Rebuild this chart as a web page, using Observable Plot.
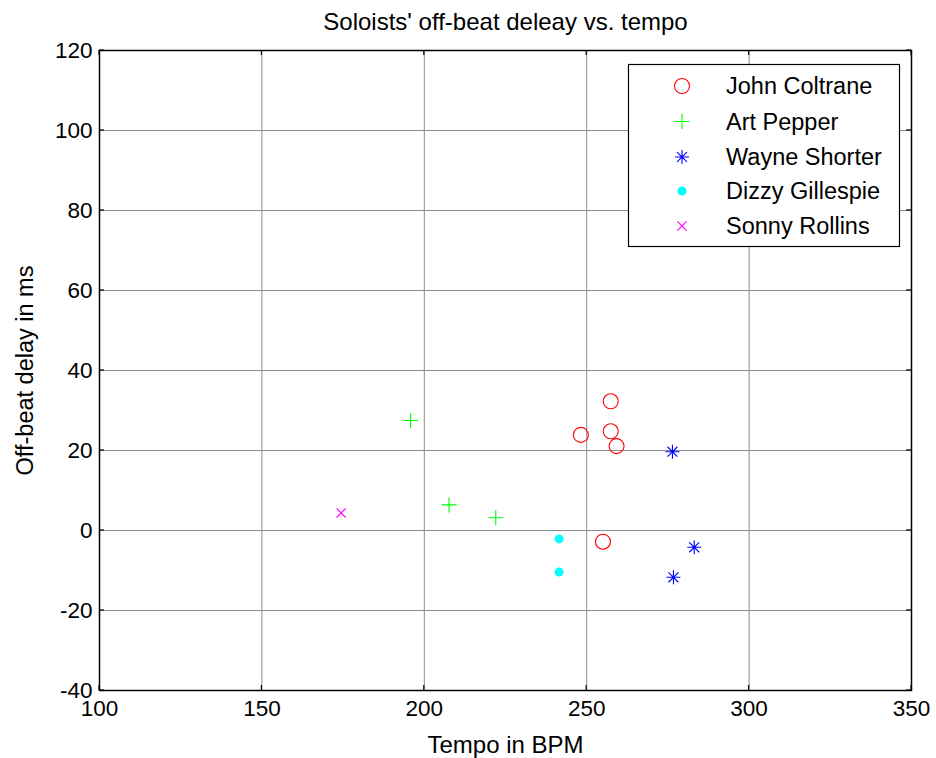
<!DOCTYPE html>
<html>
<head>
<meta charset="utf-8">
<script src="https://cdn.jsdelivr.net/npm/d3@7"></script>
<script src="https://cdn.jsdelivr.net/npm/@observablehq/plot@0.6"></script>
<style>
  html, body { margin: 0; padding: 0; background: #fff; }
  #chart { position: relative; width: 936px; height: 758px; }
</style>
</head>
<body>
<div id="chart"></div>
<script>
// ---- data ----
const players = ["John Coltrane", "Art Pepper", "Wayne Shorter", "Dizzy Gillespie", "Sonny Rollins"];
const coltraneTempo = [257.4, 248.2, 257.4, 259.2, 255.0];
const coltraneDelay = [32.3, 23.9, 24.8, 21.1, -2.8];
const pepperTempo = [195.8, 207.6, 222.0];
const pepperDelay = [27.5, 6.4, 3.2];
const shorterTempo = [276.4, 283.1, 276.7];
const shorterDelay = [19.7, -4.2, -11.7];
const gillespieTempo = [241.5, 241.5];
const gillespieDelay = [-2.1, -10.4];
const rollinsTempo = [174.4];
const rollinsDelay = [4.4];
const xTicks = [100, 150, 200, 250, 300, 350];
const yTicks = [-40, -20, 0, 20, 40, 60, 80, 100, 120];
const titleText = "Soloists' off-beat deleay vs. tempo";
const xLabel = "Tempo in BPM";
const yLabel = "Off-beat delay in ms";

const rows = (xs, ys) => xs.map((x, i) => ({x, y: ys[i]}));

// custom symbols: r (from size) = half-length of arms
const rad = size => Math.sqrt(size / Math.PI);
const plusSym = {draw(c, s) { const r = rad(s); c.moveTo(-r, 0); c.lineTo(r, 0); c.moveTo(0, -r); c.lineTo(0, r); }};
const timesSym = {draw(c, s) { const r = rad(s) * 0.7071; c.moveTo(-r, -r); c.lineTo(r, r); c.moveTo(-r, r); c.lineTo(r, -r); }};
const asteriskSym = {draw(c, s) { const r = rad(s); const d = r * 0.7071;
  c.moveTo(-r, 0); c.lineTo(r, 0); c.moveTo(0, -r); c.lineTo(0, r);
  c.moveTo(-d, -d); c.lineTo(d, d); c.moveTo(-d, d); c.lineTo(d, -d); }};
const circleSym = {draw(c, s) { const r = rad(s); c.moveTo(r, 0); c.arc(0, 0, r, 0, 2 * Math.PI); }};

const series = [
  {name: players[0], data: rows(coltraneTempo, coltraneDelay), symbol: circleSym, r: 7.5, stroke: "#ff0000", fill: "none"},
  {name: players[1], data: rows(pepperTempo, pepperDelay), symbol: plusSym, r: 7.5, stroke: "#00ff00", fill: "none"},
  {name: players[2], data: rows(shorterTempo, shorterDelay), symbol: asteriskSym, r: 7, stroke: "#0000ff", fill: "none"},
  {name: players[3], data: rows(gillespieTempo, gillespieDelay), symbol: circleSym, r: 4.5, stroke: "none", fill: "#00ffff"},
  {name: players[4], data: rows(rollinsTempo, rollinsDelay), symbol: timesSym, r: 6.5, stroke: "#ff00ff", fill: "none"}
];

const font = "'Liberation Sans', Arial, Helvetica, sans-serif";
const fmt = d => String(d);

const plot = Plot.plot({
  width: 936,
  height: 758,
  marginLeft: 99,
  marginRight: 25,
  marginTop: 50,
  marginBottom: 68,
  style: {fontFamily: font, fontSize: "22.5px", color: "#000", background: "#fff"},
  x: {domain: [100, 350]},
  y: {domain: [-40, 120]},
  marks: [
    Plot.gridX(xTicks, {stroke: "#8c8c8c", strokeOpacity: 1, strokeWidth: 1}),
    Plot.gridY(yTicks, {stroke: "#8c8c8c", strokeOpacity: 1, strokeWidth: 1}),
    Plot.axisX(xTicks, {anchor: "bottom", tickSize: 0, tickPadding: 10, label: null, fill: "#000", tickFormat: fmt}),
    Plot.axisY(yTicks, {anchor: "left", tickSize: 0, tickPadding: 7, label: null, fill: "#000", tickFormat: fmt}),
    Plot.frame({stroke: "#000", strokeWidth: 1.5}),
    ...series.map(s => Plot.dot(s.data, {x: "x", y: "y", symbol: () => s.symbol, r: s.r, stroke: s.stroke, fill: s.fill, strokeWidth: 1.1})),
    Plot.text([titleText], {frameAnchor: "top", lineAnchor: "middle", textAnchor: "middle", dy: -28, fontSize: 24, fill: "#000"}),
    Plot.text([xLabel], {frameAnchor: "bottom", lineAnchor: "middle", textAnchor: "middle", dy: 55, fontSize: 24, fill: "#000"}),
    Plot.text([yLabel], {frameAnchor: "left", lineAnchor: "middle", textAnchor: "middle", rotate: -90, dx: -74, fontSize: 23.5, fill: "#000"})
  ]
});

const svg = d3.select(plot);
// inward ticks on all four sides (MATLAB box style), placed with the plot's own scales
const sx = plot.scale("x"), sy = plot.scale("y");
const [x0, x1] = sx.range, [y0, y1] = sy.range; // y0 bottom, y1 top
const tg = svg.append("g").attr("stroke", "#000").attr("stroke-width", 1.2);
const tl = 5;
xTicks.forEach(t => {
  const x = sx.apply(t);
  tg.append("line").attr("x1", x).attr("x2", x).attr("y1", y0).attr("y2", y0 - tl);
  tg.append("line").attr("x1", x).attr("x2", x).attr("y1", y1).attr("y2", y1 + tl);
});
yTicks.forEach(t => {
  const y = sy.apply(t);
  tg.append("line").attr("y1", y).attr("y2", y).attr("x1", x0).attr("x2", x0 + tl);
  tg.append("line").attr("y1", y).attr("y2", y).attr("x1", x1).attr("x2", x1 - tl);
});

// legend (inside plot, top-right, MATLAB style)
const lg = svg.append("g").attr("font-family", font).attr("font-size", 23.5).attr("text-anchor", "start");
const box = {x: 628.5, y: 64.5, w: 271, h: 182};
lg.append("rect").attr("x", box.x).attr("y", box.y).attr("width", box.w).attr("height", box.h)
  .attr("fill", "#fff").attr("stroke", "#000").attr("stroke-width", 1.2);
const rowYs = [86, 121.5, 157, 191, 226];
series.forEach((s, i) => {
  const p = d3.path();
  s.symbol.draw(p, Math.PI * s.r * s.r);
  lg.append("path").attr("d", p.toString()).attr("transform", `translate(682,${rowYs[i]})`)
    .attr("fill", s.fill).attr("stroke", s.stroke).attr("stroke-width", 1.1);
  lg.append("text").attr("x", 726).attr("y", rowYs[i]).attr("dy", "0.35em").attr("fill", "#000").text(s.name);
});

document.getElementById("chart").appendChild(plot);
</script>
</body>
</html>
